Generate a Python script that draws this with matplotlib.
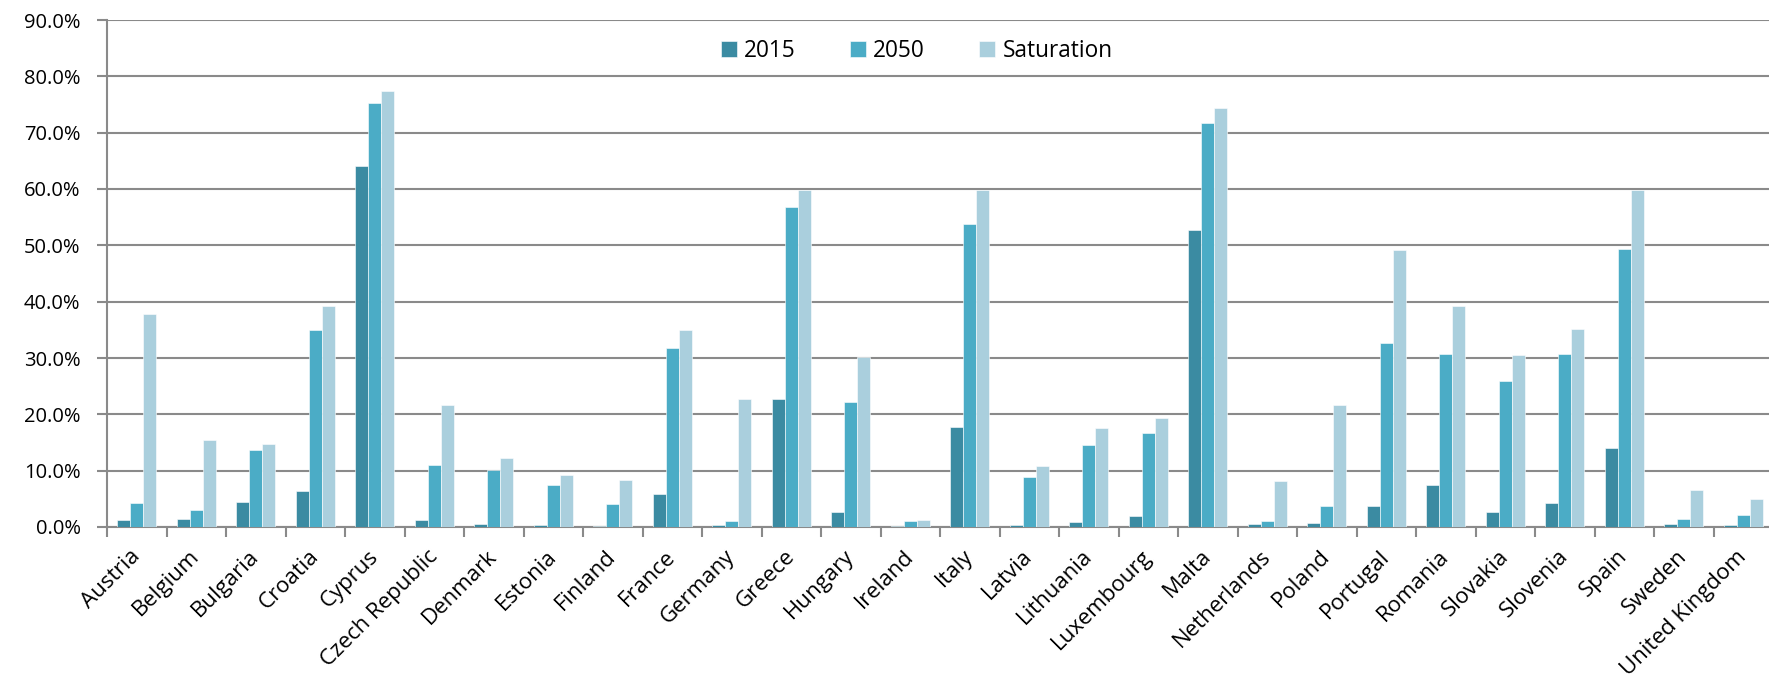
import numpy as np
import matplotlib
matplotlib.use("Agg")
import matplotlib.pyplot as plt
from matplotlib.ticker import FuncFormatter, FixedLocator

paises = ["Austria", "Belgium", "Bulgaria", "Croatia", "Cyprus", "Czech Republic",
          "Denmark", "Estonia", "Finland", "France", "Germany", "Greece", "Hungary",
          "Ireland", "Italy", "Latvia", "Lithuania", "Luxembourg", "Malta",
          "Netherlands", "Poland", "Portugal", "Romania", "Slovakia", "Slovenia",
          "Spain", "Sweden", "United Kingdom"]

v2015 = [1.3, 1.4, 4.5, 6.4, 64.0, 1.2, 0.6, 0.4, 0.2, 5.9, 0.3, 22.8, 2.7, 0.25,
         17.8, 0.4, 0.9, 2.0, 52.8, 0.55, 0.7, 3.7, 7.4, 2.6, 4.2, 14.1, 0.55, 0.3]
v2050 = [4.3, 3.1, 13.7, 35.0, 75.3, 11.0, 10.2, 7.5, 4.0, 31.7, 1.0, 56.8, 22.2, 1.0,
         53.7, 8.8, 14.6, 16.7, 71.7, 1.1, 3.7, 32.6, 30.7, 26.0, 30.7, 49.4, 1.35, 2.1]
saturacion = [37.8, 15.5, 14.8, 39.3, 77.4, 21.6, 12.3, 9.2, 8.3, 34.9, 22.8, 59.8, 30.2, 1.2,
              59.8, 10.8, 17.6, 19.3, 74.4, 8.2, 21.6, 49.1, 39.3, 30.5, 35.1, 59.8, 6.6, 5.0]

series = [("2015", v2015, "#3B8BA2"), ("2050", v2050, "#4BACC6"),
          ("Saturation", saturacion, "#AACFDD")]

plt.rcParams['font.family'] = ['Open Sans', 'DejaVu Sans']

W, H = 1769, 685
fig = plt.figure(figsize=(W / 100, H / 100), dpi=100)
# ejes en pixeles: izquierda 107, derecha 1773 (se corta), 0% en 527, 90% en 20
ax = fig.add_axes([107 / W, 1 - 527 / H, 1666 / W, 507 / H])

x = np.arange(len(paises))
ancho = 0.22
for i, (nombre, valores, color) in enumerate(series):
    ax.bar(x + (i - 1) * ancho, valores, ancho, color=color, label=nombre,
           edgecolor="white", linewidth=0.4, zorder=3)

gris = "#8a8a8a"
ax.set_ylim(0, 90)
ax.set_xlim(-0.5, len(paises) - 0.5)
ax.set_yticks(np.arange(0, 91, 10))
ax.yaxis.set_major_formatter(FuncFormatter(lambda v, p: "%.1f%%" % v))
ax.grid(axis="y", color=gris, linewidth=1.5, zorder=0)

ax.set_xticks(x)
ax.set_xticklabels(paises, rotation=45, ha="right", va="center",
                   rotation_mode="anchor", fontsize=16)
ax.xaxis.set_minor_locator(FixedLocator(np.arange(-0.5, len(paises), 1)))
ax.tick_params(axis="x", which="major", length=0, pad=19)
ax.tick_params(axis="x", which="minor", length=7, width=1.5, color=gris, direction="out")
ax.tick_params(axis="y", length=7, width=1.5, color=gris, labelsize=14.5, pad=12)

for lado in ["top", "right"]:
    ax.spines[lado].set_visible(False)
for lado in ["left", "bottom"]:
    ax.spines[lado].set_color(gris)
    ax.spines[lado].set_linewidth(1.5)

ax.legend(loc="center left", bbox_to_anchor=(721 / W, 634 / H), bbox_transform=fig.transFigure,
          ncol=3, frameon=False, fontsize=16.3, handlelength=0.71, handleheight=0.71,
          columnspacing=2.4, handletextpad=0.31, borderpad=0, borderaxespad=0)

fig.savefig("out.png", dpi=100)
